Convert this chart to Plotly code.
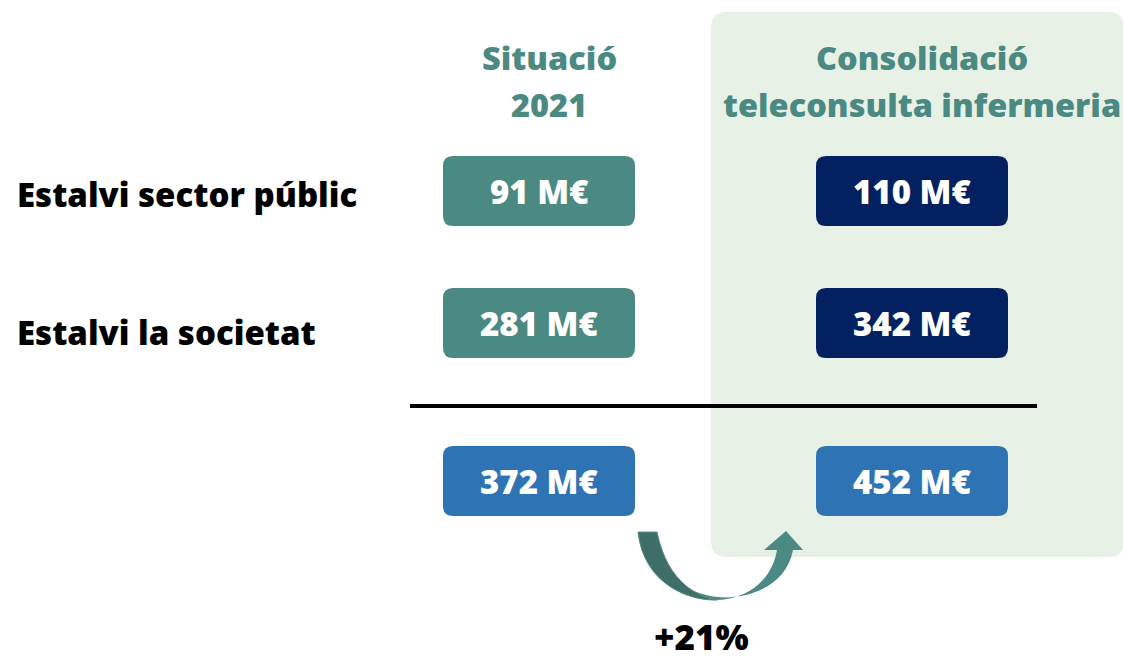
import plotly.graph_objects as go

# ---- data ----
row_labels = ["Estalvi sector públic", "Estalvi la societat"]
col_headers = [["Situació", "2021"], ["Consolidació", "teleconsulta infermeria"]]
values_2021 = [91, 281]
values_consol = [110, 342]
totals = [372, 452]
growth_label = "+21%"
unit = " M€"

# ---- style / layout ----
W, H = 1123, 662
FONT = "Open Sans"
TEAL = "#4B8A82"
NAVY = "#032160"
BLUE = "#2E74B5"
PANEL = "#E8F1E5"
col_x = [539, 912]
row_y = [191, 323]
total_y = 481
box_w, box_h = 193, 70

def rounded_rect(x0, y0, x1, y1, r):
    return (f"M {x0+r} {y0} L {x1-r} {y0} Q {x1} {y0} {x1} {y0+r} "
            f"L {x1} {y1-r} Q {x1} {y1} {x1-r} {y1} L {x0+r} {y1} "
            f"Q {x0} {y1} {x0} {y1-r} L {x0} {y0+r} Q {x0} {y0} {x0+r} {y0} Z")

fig = go.Figure()
shapes = []
annotations = []

shapes.append(dict(type="path", path=rounded_rect(711, 12, 1124, 557, 16),
                   fillcolor=PANEL, line=dict(width=0), layer="below"))

for ci, lines in enumerate(col_headers):
    for li, txt in enumerate(lines):
        annotations.append(dict(x=col_x[ci] + 10, y=57 + li * 47, text=txt,
                                showarrow=False, xanchor="center", yanchor="middle",
                                font=dict(family=FONT, size=32.5, weight=800, color=TEAL)))

for ri, lab in enumerate(row_labels):
    annotations.append(dict(x=15, y=row_y[ri] + (3 if ri == 0 else 9), text=lab, showarrow=False,
                            xanchor="left", yanchor="middle",
                            font=dict(family=FONT, size=33, weight=800, color="#000000")))

def add_box(cx, cy, val, color):
    shapes.append(dict(type="path",
                       path=rounded_rect(cx - box_w / 2 + 0.5, cy - box_h / 2, cx + box_w / 2 - 0.5, cy + box_h / 2, 10),
                       fillcolor=color, line=dict(width=0)))
    annotations.append(dict(x=cx, y=cy, text=f"{val}{unit}", showarrow=False,
                            xanchor="center", yanchor="middle",
                            font=dict(family=FONT, size=33, weight=800, color="white")))

for ri in range(len(row_labels)):
    add_box(col_x[0], row_y[ri], values_2021[ri], TEAL)
    add_box(col_x[1], row_y[ri], values_consol[ri], NAVY)
for ci, t in enumerate(totals):
    add_box(col_x[ci], total_y, t, BLUE)

shapes.append(dict(type="line", x0=410, x1=1037, y0=406, y1=406,
                   line=dict(color="#000000", width=4)))

arrow = ("M 638 532 C 644 585 690 601 717 600 C 748 599 772 580 777 550 "
         "L 764 550 L 786 531 L 803 550 L 793 550 "
         "C 786 588 745 600 717 597 C 688 594 660 575 657 532 Z")
shapes.append(dict(type="path", path=arrow, fillcolor=TEAL, line=dict(width=0)))
dark = ("M 638 532 C 644 585 690 601 717 600 C 700 597 668 585 657 532 Z")
shapes.append(dict(type="path", path=dark, fillcolor="#3F6D68",
                   line=dict(color="#5A8F88", width=1)))

annotations.append(dict(x=701, y=661, text=growth_label, showarrow=False,
                        xanchor="center", yanchor="bottom", borderpad=0,
                        font=dict(family=FONT, size=35, weight=800, color="#000000")))

fig.update_layout(
    width=W, height=H, margin=dict(l=0, r=0, t=0, b=0),
    paper_bgcolor="white", plot_bgcolor="white",
    xaxis=dict(range=[0, W], visible=False, fixedrange=True),
    yaxis=dict(range=[H, 0], visible=False, fixedrange=True),
    shapes=shapes, annotations=annotations, showlegend=False,
)
fig.write_html("out.html", config={"displayModeBar": False},
               post_script="document.body.style.margin='0';document.body.style.overflow='hidden';")
